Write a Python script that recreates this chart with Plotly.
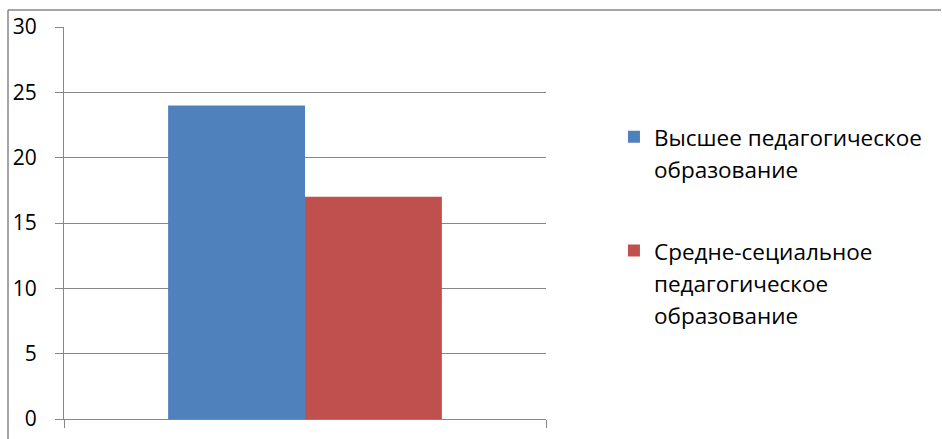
import plotly.graph_objects as go

categories = [" "]
series_names = ["Высшее педагогическое<br>образование",
                "Средне-сециальное<br>педагогическое<br>образование"]
series_values = [[24], [17]]
series_colors = ["#4F81BD", "#C0504D"]
y_ticks = [0, 5, 10, 15, 20, 25, 30]

W, H = 942, 439
L, R, T, B = 64, 396, 27, 20
FONT = "Open Sans"

fig = go.Figure()
for i, (name, vals, col) in enumerate(zip(series_names, series_values, series_colors)):
    label = '<span style="font-size:22.5px">' + name.replace("<br>", '</span><br><span style="font-size:22.5px">') + "</span>"
    fig.add_trace(go.Bar(x=categories, y=vals, name=label, marker_color=col,
                         marker_line_width=0, legendgroup=f"g{i}"))

grid = "#878787"

def px_to_paper_x(px):
    return (px - L) / (W - L - R)

def px_to_paper_y(py):
    return (H - B - py) / (H - T - B)

fig.update_layout(
    width=W, height=H,
    margin=dict(l=L, r=R, t=T, b=B, autoexpand=False),
    paper_bgcolor="white", plot_bgcolor="white",
    barmode="group", bargap=0.432, bargroupgap=0,
    font=dict(family=FONT, size=21, color="black"),
    showlegend=True,
    legend=dict(x=1.141, y=0.777, xanchor="left", yanchor="top",
                valign="top", tracegroupgap=47, itemwidth=30,
                font=dict(family=FONT, size=24.5, color="black"),
                bgcolor="rgba(0,0,0,0)"),
    xaxis=dict(showgrid=False, showline=True, linecolor=grid, linewidth=1,
               ticks="outside", tickson="boundaries", ticklen=8, tickcolor=grid,
               showticklabels=False, zeroline=False, automargin=False),
    yaxis=dict(range=[0, 30], tickvals=y_ticks, showgrid=True, gridcolor=grid,
               gridwidth=1, showline=True, linecolor=grid, linewidth=1,
               ticks="outside", ticklen=8, tickcolor=grid, zeroline=False,
               automargin=False, ticklabelstandoff=14,
               tickfont=dict(family=FONT, size=21, color="black")),
    shapes=[
        dict(type="line", xref="paper", yref="paper",
             x0=px_to_paper_x(8), x1=px_to_paper_x(8),
             y0=px_to_paper_y(10), y1=px_to_paper_y(445),
             line=dict(color=grid, width=1.5)),
        dict(type="line", xref="paper", yref="paper",
             x0=px_to_paper_x(8), x1=px_to_paper_x(941),
             y0=px_to_paper_y(10), y1=px_to_paper_y(10),
             line=dict(color=grid, width=1.5)),
    ],
)

fig.write_html("out.html", config={"displayModeBar": False},
               post_script="document.body.style.margin='0';")
